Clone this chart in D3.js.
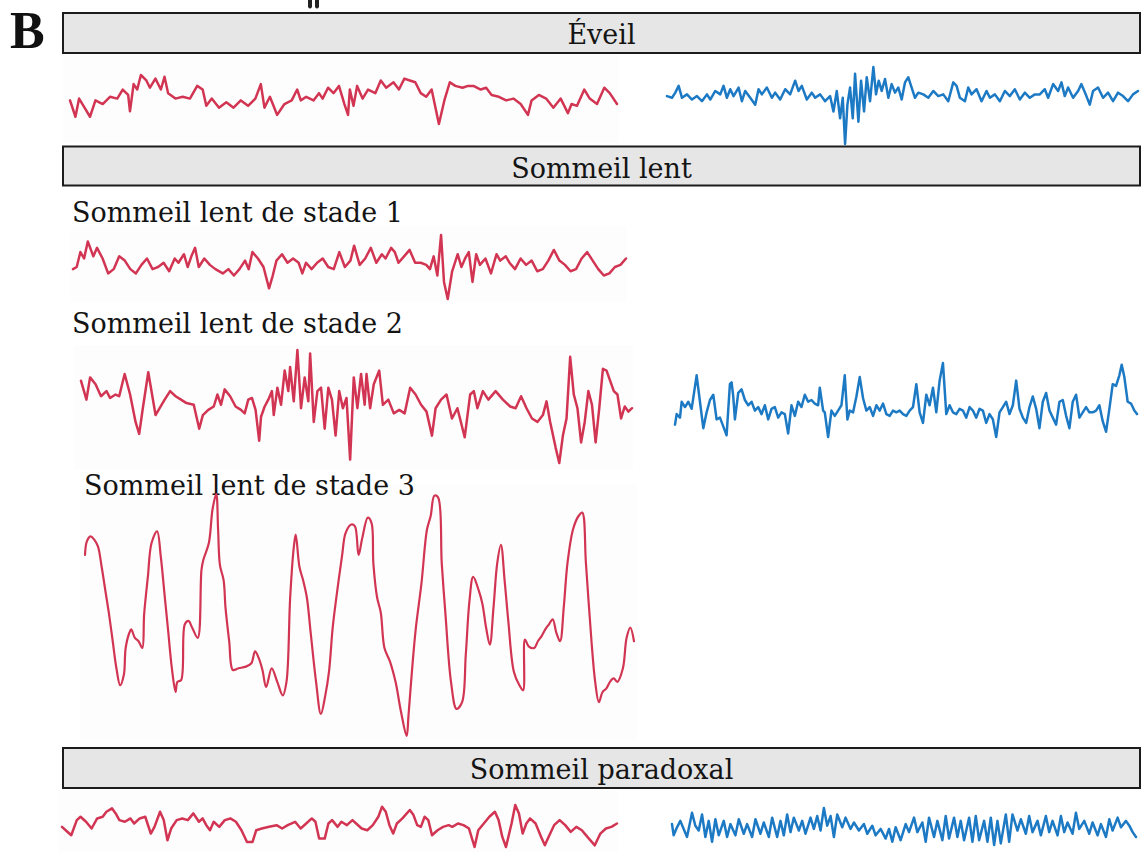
<!DOCTYPE html>
<html>
<head>
<meta charset="utf-8">
<script src="https://cdn.jsdelivr.net/npm/d3@7"></script>
<style>
  html, body { margin: 0; padding: 0; background: #ffffff; }
  svg { display: block; }
</style>
</head>
<body>
<svg id="chart" width="1141" height="852"></svg>
<script>
// ---------- DATA (time in arbitrary samples, amplitude in arbitrary µV, EEG convention: negative up) ----------
const panelLetter = "B";
const sectionTitles = ["Éveil", "Sommeil lent", "Sommeil paradoxal"];
const stageLabels = ["Sommeil lent de stade 1", "Sommeil lent de stade 2", "Sommeil lent de stade 3"];

// Éveil — red trace
const eveilRouge = [[30,130],[45,175],[55,125],[70,150],[85,175],[100,130],[120,140],[140,120],[160,125],[175,100],[190,115],[195,160],[205,85],[215,100],[225,60],[240,75],[250,95],[265,70],[280,100],[290,65],[300,110],[320,125],[340,120],[360,125],[380,90],[395,100],[405,145],[420,125],[440,150],[460,135],[480,150],[500,130],[520,145],[540,125],[555,85],[565,150],[580,120],[600,170],[620,140],[640,130],[655,100],[665,130],[680,120],[700,130],[715,110],[725,125],[740,95],[755,110],[770,90],[785,140],[795,170],[800,100],[810,145],[820,90],[835,125],[850,100],[870,110],[885,75],[900,95],[920,80],[935,100],[950,70],[965,75],[980,80],[995,110],[1010,120],[1025,100],[1045,195],[1060,130],[1075,80],[1090,90],[1110,95],[1125,90],[1140,90],[1160,100],[1175,95],[1190,115],[1210,120],[1230,130],[1250,125],[1270,140],[1290,170],[1300,130],[1320,115],[1340,125],[1360,150],[1380,125],[1400,165],[1410,140],[1425,145],[1445,100],[1460,125],[1480,140],[1500,95],[1515,110],[1535,140]];

// Éveil — blue trace
const eveilBleu = [[20,125],[35,130],[45,115],[55,95],[65,130],[80,120],[95,135],[110,125],[125,140],[140,120],[150,135],[165,110],[180,120],[190,95],[200,130],[210,105],[220,125],[235,100],[245,140],[255,110],[270,130],[285,150],[295,105],[305,120],[320,100],[335,130],[345,115],[360,135],[375,105],[390,120],[405,80],[415,110],[425,95],[440,135],[455,115],[465,130],[480,120],[495,140],[510,125],[520,170],[530,110],[540,190],[548,130],[555,265],[562,150],[570,100],[578,190],[585,60],[595,200],[603,80],[612,170],[620,70],[630,140],[640,40],[648,120],[656,80],[665,110],[675,75],[685,130],[695,90],[705,115],[715,100],[725,135],[735,85],[745,70],[755,100],[765,130],[775,115],[790,120],[805,130],[820,110],[835,125],[850,120],[865,140],[880,85],[890,95],[900,130],[915,140],[925,100],[935,120],[950,105],[965,140],[980,110],[990,130],[1005,120],[1020,140],[1035,110],[1050,125],[1065,105],[1080,135],[1095,115],[1110,130],[1125,120],[1140,120],[1155,105],[1165,130],[1180,90],[1195,110],[1205,85],[1215,125],[1225,100],[1240,130],[1255,110],[1265,90],[1280,125],[1290,150],[1300,110],[1315,100],[1330,130],[1345,115],[1360,140],[1375,115],[1390,125],[1405,140],[1420,120],[1435,110]];

// Sommeil lent stade 1 — red trace
const stade1Rouge = [[35,200],[45,195],[55,160],[65,175],[75,135],[90,170],[100,150],[115,175],[130,210],[145,200],[160,170],[175,180],[190,200],[205,210],[220,190],[235,175],[250,200],[265,195],[280,185],[295,205],[310,175],[320,185],[335,165],[345,195],[355,170],[365,150],[375,195],[390,175],[405,190],[420,200],[440,210],[455,200],[470,215],[485,200],[500,180],[510,200],[520,160],[535,175],[550,195],[565,245],[575,215],[585,180],[600,165],[615,185],[630,175],[645,185],[655,210],[665,185],[680,200],[695,185],[710,175],[725,195],[740,200],[755,160],[770,195],[785,180],[795,145],[810,190],[825,175],[840,150],[855,185],[870,165],[880,175],[895,150],[905,160],[915,185],[930,170],[945,155],[960,185],[975,185],[990,190],[1000,200],[1010,170],[1020,215],[1030,120],[1038,230],[1048,270],[1060,205],[1075,165],[1085,195],[1095,175],[1105,160],[1115,230],[1125,165],[1135,190],[1150,175],[1165,210],[1180,165],[1190,180],[1205,170],[1215,185],[1230,200],[1245,175],[1260,190],[1275,180],[1290,205],[1305,200],[1320,180],[1335,155],[1350,180],[1365,190],[1380,205],[1395,200],[1410,175],[1425,160],[1440,180],[1455,200],[1470,215],[1485,210],[1500,195],[1515,190],[1530,175]];

// Sommeil lent stade 2 — red trace
const stade2Rouge = [[30,120],[45,175],[55,110],[70,130],[85,165],[100,150],[110,170],[125,160],[135,165],[150,100],[165,160],[180,240],[190,275],[200,200],[215,95],[235,220],[260,175],[275,150],[290,165],[305,175],[320,185],[340,190],[355,260],[365,220],[380,205],[395,195],[405,160],[415,190],[425,145],[440,165],[455,195],[470,205],[480,215],[490,175],[500,170],[510,205],[520,295],[525,225],[535,195],[545,175],[555,150],[560,220],[570,140],[580,190],[590,90],[600,150],[605,80],[615,180],[625,30],[635,200],[645,110],[655,180],[660,40],[670,240],[680,150],[690,140],[700,260],[710,140],[720,175],[730,280],[740,150],[750,200],[760,170],[770,350],[780,110],[790,200],[800,100],[810,190],[815,100],[825,200],[835,130],[850,90],[860,190],[875,175],[890,215],[905,205],[920,215],[935,140],[950,160],[965,190],[980,210],[995,280],[1005,200],[1020,175],[1035,160],[1050,230],[1065,200],[1085,285],[1100,160],[1110,150],[1120,200],[1135,150],[1150,175],[1170,150],[1190,175],[1210,195],[1225,200],[1240,165],[1255,200],[1270,230],[1285,240],[1300,220],[1310,180],[1320,240],[1335,315],[1345,360],[1355,280],[1365,230],[1375,50],[1385,160],[1395,200],[1405,300],[1415,240],[1425,150],[1435,190],[1445,300],[1455,200],[1465,85],[1475,90],[1485,120],[1495,150],[1505,160],[1515,230],[1525,195],[1535,210],[1545,200]];

// Sommeil lent stade 2 — blue trace
const stade2Bleu = [[30,215],[35,185],[45,195],[50,150],[60,165],[70,150],[80,170],[95,75],[105,150],[115,225],[125,180],[135,145],[145,130],[155,200],[165,195],[175,220],[185,245],[195,100],[200,95],[205,135],[210,200],[220,125],[230,115],[240,145],[250,160],[260,150],[270,175],[280,165],[290,185],[300,160],[310,200],[320,170],[330,165],[340,195],[350,180],[360,185],[370,240],[380,160],[390,190],[400,150],[410,165],[420,130],[430,150],[440,145],[450,155],[460,160],[465,110],[475,175],[480,180],[490,250],[500,175],[510,190],[520,175],[530,160],[540,75],[548,200],[555,175],[565,180],[575,135],[585,80],[595,140],[605,175],[615,165],[625,190],[635,160],[645,175],[655,155],[665,185],[675,190],[685,175],[695,180],[705,175],[715,185],[725,190],[735,175],[745,165],[755,100],[765,180],[775,210],[785,130],[795,160],[805,110],[815,180],[825,90],[835,40],[845,185],[855,160],[865,180],[875,185],[885,170],[895,175],[905,195],[915,165],[925,175],[935,195],[945,170],[955,175],[965,210],[975,185],[985,200],[995,250],[1005,180],[1015,165],[1025,150],[1035,185],[1045,160],[1055,90],[1065,170],[1075,195],[1085,210],[1095,165],[1105,135],[1115,170],[1125,225],[1135,150],[1145,125],[1155,175],[1165,195],[1175,215],[1185,150],[1195,145],[1205,190],[1215,225],[1225,150],[1235,130],[1245,195],[1255,180],[1265,165],[1275,180],[1285,180],[1295,175],[1305,160],[1315,205],[1325,235],[1335,170],[1345,100],[1355,105],[1365,75],[1372,45],[1380,80],[1390,150],[1400,155],[1410,175],[1418,185]];

// Sommeil lent stade 3 — red trace
const stade3Rouge = [[40,225],[45,185],[55,170],[65,180],[75,200],[85,260],[95,330],[105,400],[115,480],[125,560],[135,610],[145,580],[150,500],[160,455],[165,445],[175,470],[185,480],[195,500],[200,400],[210,290],[220,190],[235,155],[245,230],[255,340],[265,450],[275,560],[285,630],[290,600],[300,595],[310,430],[320,420],[330,440],[345,470],[355,270],[360,240],[375,190],[385,90],[395,45],[400,150],[405,255],[415,300],[420,380],[430,480],[440,565],[455,560],[475,555],[490,545],[500,510],[510,530],[520,565],[530,615],[545,560],[560,600],[575,640],[585,600],[595,350],[605,200],[610,165],[620,260],[630,300],[640,350],[650,450],[665,600],[678,695],[690,640],[700,570],[710,440],[720,350],[735,230],[745,160],[760,135],[770,140],[780,225],[790,175],[805,115],[815,130],[820,250],[830,350],[840,395],[850,500],[865,540],[880,600],[895,690],[910,760],[915,700],[925,560],[935,440],[950,310],[965,150],[975,110],[985,50],[995,55],[1005,250],[1015,400],[1030,600],[1045,680],[1060,660],[1070,520],[1080,360],[1090,290],[1105,330],[1115,370],[1125,440],[1135,490],[1145,380],[1155,250],[1165,195],[1175,300],[1185,420],[1200,570],[1215,610],[1225,625],[1230,475],[1240,495],[1255,500],[1265,480],[1275,465],[1285,445],[1295,430],[1305,415],[1315,455],[1325,480],[1335,380],[1345,250],[1360,150],[1375,110],[1385,100],[1395,250],[1410,480],[1420,600],[1430,660],[1440,630],[1450,620],[1460,600],[1470,590],[1480,600],[1495,560],[1505,470],[1515,440],[1525,480]];

// Sommeil paradoxal — red trace
const paradoxalRouge = [[20,120],[30,130],[45,145],[60,100],[70,90],[85,105],[100,125],[115,95],[130,90],[140,75],[155,65],[165,80],[175,100],[190,105],[205,95],[215,110],[230,95],[245,90],[260,140],[270,120],[285,75],[295,100],[305,160],[315,125],[330,100],[345,95],[360,100],[375,80],[390,105],[400,95],[410,115],[420,130],[430,105],[445,120],[460,100],[475,95],[490,105],[505,130],[520,165],[535,165],[545,130],[560,125],[580,120],[600,115],[615,125],[630,115],[650,105],[665,125],[680,110],[695,95],[705,105],[715,155],[730,155],[740,110],[750,100],[765,120],[775,105],[790,115],[805,100],[815,110],[830,125],[845,130],[860,115],[875,90],[885,60],[895,75],[905,115],[915,140],[925,110],[940,95],[960,70],[970,85],[980,115],[990,120],[1000,90],[1010,100],[1020,145],[1035,130],[1050,120],[1065,115],[1075,120],[1090,110],[1105,115],[1120,125],[1135,180],[1145,130],[1160,110],[1175,90],[1190,75],[1200,100],[1210,150],[1220,180],[1235,110],[1245,55],[1255,80],[1265,140],[1275,110],[1285,95],[1300,110],[1315,150],[1325,175],[1335,150],[1350,115],[1365,100],[1380,115],[1395,135],[1410,120],[1425,130],[1440,150],[1460,175],[1475,140],[1490,125],[1505,120],[1520,110]];

// Sommeil paradoxal — blue trace
const paradoxalBleu = [[40,90],[45,125],[55,100],[65,80],[75,105],[85,130],[100,55],[110,95],[120,110],[130,60],[140,130],[150,80],[160,145],[170,75],[180,125],[195,80],[205,130],[215,90],[230,125],[240,75],[255,120],[265,90],[280,130],[290,75],[305,120],[315,85],[330,130],[340,70],[355,130],[365,80],[375,125],[385,60],[395,115],[405,70],[420,110],[430,80],[440,120],[455,70],[465,105],[475,65],[485,110],[495,40],[505,95],[515,65],[525,130],[535,60],[550,100],[560,70],[575,105],[585,85],[600,110],[615,90],[625,120],[640,95],[650,125],[665,105],[680,135],[690,105],[700,145],[710,100],[725,140],[740,90],[750,115],[765,70],[775,115],[790,85],[800,145],[810,70],[825,130],[835,80],[850,140],[860,65],[870,135],[885,70],[895,130],[905,80],[915,140],[930,70],[940,145],[950,65],[960,140],[975,80],[985,145],[995,70],[1005,155],[1015,80],[1025,150],[1040,60],[1050,145],[1060,60],[1075,110],[1085,75],[1100,120],[1110,65],[1120,115],[1135,80],[1145,125],[1160,65],[1170,115],[1180,80],[1195,125],[1205,65],[1215,115],[1225,85],[1240,120],[1250,55],[1260,105],[1275,80],[1290,120],[1300,85],[1315,125],[1325,90],[1340,130],[1350,75],[1360,110],[1375,70],[1385,100],[1400,80],[1410,95],[1420,115],[1430,130]];

// ---------- LAYOUT ----------
const RED = "#d23652";
const BLUE = "#1f79c4";
const svg = d3.select("#chart");
const serif = "'DejaVu Serif', 'Liberation Serif', serif";

// soft edge like the scanned recordings
const defs = svg.append("defs");
defs.append("filter").attr("id", "soft")
  .attr("x", "-2%").attr("y", "-10%").attr("width", "104%").attr("height", "120%")
  .append("feGaussianBlur").attr("stdDeviation", 0.45);

// very faint backgrounds of the original recordings
const backgrounds = [
  {x: 63, y: 55, w: 556, h: 88},
  {x: 70, y: 226, w: 557, h: 76},
  {x: 74, y: 345, w: 559, h: 124},
  {x: 80, y: 484, w: 557, h: 256},
  {x: 58, y: 790, w: 560, h: 62}
];
svg.selectAll("rect.bg").data(backgrounds).join("rect")
  .attr("class", "bg")
  .attr("x", d => d.x).attr("y", d => d.y)
  .attr("width", d => d.w).attr("height", d => d.h)
  .attr("fill", "#fdfdfd");

// panel letter
svg.append("text")
  .attr("x", 10).attr("y", 48)
  .attr("font-family", "'Liberation Serif', 'DejaVu Serif', serif")
  .attr("font-weight", "bold")
  .attr("font-size", 52)
  .attr("fill", "#111")
  .text(panelLetter);

// fragment of mark from above panel
svg.append("path")
  .attr("d", "M308,0 L312,0 L312,7 Q310,10 308,7 Z M315,0 L319,0 L319,7 Q317,10 315,7 Z")
  .attr("fill", "#222");

// section header bars
const headers = [
  {y: 13, h: 40},
  {y: 146.5, h: 39},
  {y: 748, h: 40}
];
const hx0 = 63, hx1 = 1140;
headers.forEach((h, i) => {
  svg.append("rect")
    .attr("x", hx0).attr("y", h.y)
    .attr("width", hx1 - hx0).attr("height", h.h)
    .attr("fill", "#e6e6e6")
    .attr("stroke", "#1c1c1c")
    .attr("stroke-width", 2);
  svg.append("text")
    .attr("x", (hx0 + hx1) / 2)
    .attr("y", h.y + 31)
    .attr("text-anchor", "middle")
    .attr("font-family", serif)
    .attr("font-size", 27)
    .attr("fill", "#141414")
    .text(sectionTitles[i]);
});

// stage labels
const labelPos = [
  {x: 72, y: 222},
  {x: 72, y: 333},
  {x: 84, y: 495}
];
labelPos.forEach((p, i) => {
  svg.append("text")
    .attr("x", p.x).attr("y", p.y)
    .attr("font-family", serif)
    .attr("font-size", 27)
    .attr("fill", "#141414")
    .text(stageLabels[i]);
});

// traces
const traces = [
  {data: eveilRouge,     color: RED,  xr: [70, 617],  yr: [75, 124]},
  {data: eveilBleu,      color: BLUE, xr: [667, 1138], yr: [67, 144]},
  {data: stade1Rouge,    color: RED,  xr: [73, 626],  yr: [235, 299]},
  {data: stade2Rouge,    color: RED,  xr: [81, 632],  yr: [350, 463]},
  {data: stade2Bleu,     color: BLUE, xr: [675, 1137], yr: [363, 437]},
  {data: stade3Rouge,    color: RED,  xr: [85, 634],  yr: [494, 736], smooth: true},
  {data: paradoxalRouge, color: RED,  xr: [62, 617],  yr: [805, 847]},
  {data: paradoxalBleu,  color: BLUE, xr: [672, 1136], yr: [808, 845]}
];

traces.forEach(tr => {
  const x = d3.scaleLinear().domain(d3.extent(tr.data, d => d[0])).range(tr.xr);
  const y = d3.scaleLinear().domain(d3.extent(tr.data, d => d[1])).range(tr.yr);
  const line = d3.line()
    .x(d => x(d[0]))
    .y(d => y(d[1]))
    .curve(tr.smooth ? d3.curveCatmullRom.alpha(0.5) : d3.curveLinear);
  svg.append("path")
    .datum(tr.data)
    .attr("d", line)
    .attr("fill", "none")
    .attr("stroke", tr.color)
    .attr("stroke-width", tr.smooth ? 2.2 : 2.5)
    .attr("stroke-linejoin", "round")
    .attr("stroke-linecap", "round")
    .attr("filter", "url(#soft)");
});
</script>
</body>
</html>
